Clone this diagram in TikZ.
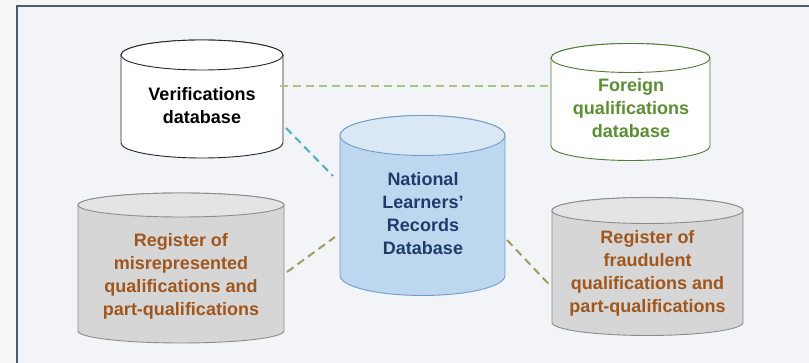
\documentclass[tikz,border=0pt]{standalone}
\usepackage{fontspec}
\setmainfont{Liberation Sans}

\definecolor{pagebg}{HTML}{F6F6F7}
\definecolor{panelbg}{HTML}{F2F4F8}
\definecolor{panelframe}{HTML}{4A5A70}
\definecolor{forline}{HTML}{4F7A33}
\definecolor{fortext}{HTML}{5A8F32}
\definecolor{natbody}{HTML}{BDD7EE}
\definecolor{nattop}{HTML}{DAE8F6}
\definecolor{natline}{HTML}{6F9CCC}
\definecolor{nattext}{HTML}{1F3B6B}
\definecolor{regbody}{HTML}{D6D6D6}
\definecolor{regtop}{HTML}{E4E4E4}
\definecolor{regline}{HTML}{8C8C8C}
\definecolor{regtext}{HTML}{A0561C}
\definecolor{linkgreen}{HTML}{A9C47F}
\definecolor{linkblue}{HTML}{4BACC6}
\definecolor{linkolive}{HTML}{A09B5E}

% cylinder: name, centre, width, height, cap radius, style prefix
\newcommand{\dbcyl}[6]{%
  \node[cylbox, minimum width=#3pt, minimum height=#4pt] (#1) at (#2) {};
  \path[#6 body] ([yshift=-#5pt]#1.north west) -- ([yshift=#5pt]#1.south west)
     arc[start angle=180, end angle=360, x radius=#3/2, y radius=#5]
     -- ([yshift=-#5pt]#1.north east)
     arc[start angle=0, end angle=180, x radius=#3/2, y radius=#5] -- cycle;
  \path[#6 top] ([yshift=-#5pt]#1.north) ellipse[x radius=#3/2, y radius=#5];
}

\tikzset{
  cylbox/.style={rectangle, inner sep=0pt, outer sep=0pt, draw=none},
  dbtext/.style={align=center, inner sep=0pt, font=\fontsize{18}{23}\selectfont\bfseries},
  ver body/.style={fill=white, draw=black!85, line width=0.9pt},
  ver top/.style={fill=white, draw=black!85, line width=0.9pt},
  for body/.style={fill=white, draw=forline, line width=0.9pt},
  for top/.style={fill=white, draw=forline, line width=0.9pt},
  nat body/.style={fill=natbody, draw=natline, line width=0.9pt},
  nat top/.style={fill=nattop, draw=natline, line width=0.9pt},
  reg body/.style={fill=regbody, draw=regline, line width=0.9pt},
  reg top/.style={fill=regtop, draw=regline, line width=0.9pt},
  link/.style={line width=2.2pt, dash pattern=on 8pt off 5pt},
}

\begin{document}
\begin{tikzpicture}[x=1pt, y=1pt]
  \useasboundingbox (0,0) rectangle (809,363);
  \fill[pagebg] (0,0) rectangle (809,363);
  \begin{scope}
    \clip (0,0) rectangle (809,363);
    \draw[panelframe, line width=1.5pt, fill=panelbg] (17,-10) rectangle (830,357);
  \end{scope}

  % databases
  \dbcyl{ver}{202,264}{162}{118}{15}{ver}
  \dbcyl{for}{630.5,261}{159}{117}{14.5}{for}
  \dbcyl{nat}{422.5,157.5}{165}{180}{20}{nat}
  \dbcyl{mis}{181,95}{206}{150}{12}{reg}
  \dbcyl{fra}{647.5,96.5}{191}{138}{13}{reg}

  % labels
  \node[dbtext, text=black] (ver-label) at (202,257) {Verifications\\database};
  \node[dbtext, text=fortext] (for-label) at (631,255) {Foreign\\qualifications\\database};
  \node[dbtext, text=nattext] (nat-label) at (423,149.5) {National\\Learners’\\Records\\Database};
  \node[dbtext, text=regtext] (mis-label) at (181,86.5) {Register of\\misrepresented\\qualifications and\\part-qualifications};
  \node[dbtext, text=regtext] (fra-label) at (647.5,89.5) {Register of\\fraudulent\\qualifications and\\part-qualifications};

  % links
  \draw[link, linkgreen] ([shift={(-3,13)}]ver.east) -- ([yshift=16]for.west);
  \draw[link, linkblue, line width=2pt] ([shift={(3,-29)}]ver.east) -- ([shift={(-7,29.5)}]nat.west);
  \draw[link, linkolive, line width=2pt] ([shift={(3,-4)}]mis.east) -- ([shift={(-5,-31.5)}]nat.west);
  \draw[link, linkolive, line width=2pt] ([shift={(2,-34.5)}]nat.east) -- ([shift={(-1,-20)}]fra.west);
\end{tikzpicture}
\end{document}
